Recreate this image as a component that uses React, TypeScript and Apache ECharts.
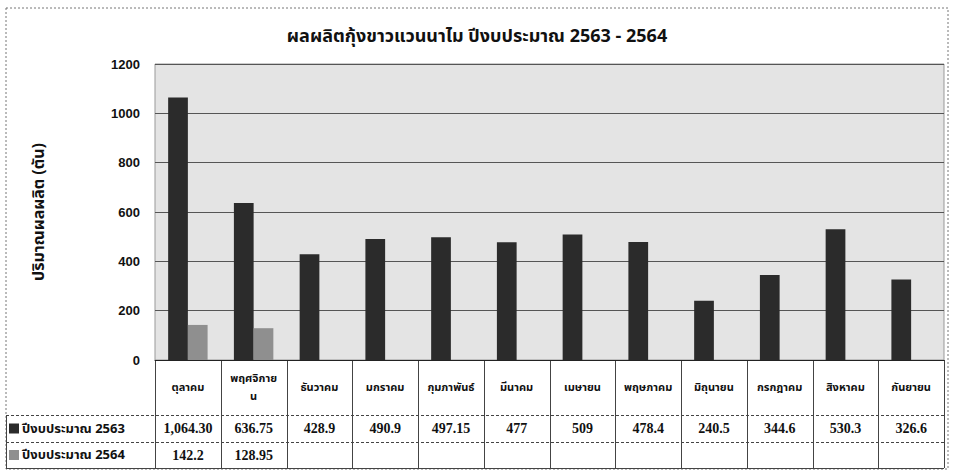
import React, { useEffect, useRef } from "react";
import * as echarts from "echarts";

const categories = ["ตุลาคม", "พฤศจิกายน", "ธันวาคม", "มกราคม", "กุมภาพันธ์", "มีนาคม", "เมษายน", "พฤษภาคม", "มิถุนายน", "กรกฎาคม", "สิงหาคม", "กันยายน"];
const categoryTickLabels = ["ตุลาคม", "พฤศจิกาย\nน", "ธันวาคม", "มกราคม", "กุมภาพันธ์", "มีนาคม", "เมษายน", "พฤษภาคม", "มิถุนายน", "กรกฎาคม", "สิงหาคม", "กันยายน"];
const seriesNames = ["ปีงบประมาณ 2563", "ปีงบประมาณ 2564"];
const values2563 = [1064.3, 636.75, 428.9, 490.9, 497.15, 477, 509, 478.4, 240.5, 344.6, 530.3, 326.6];
const values2564: (number | null)[] = [142.2, 128.95, null, null, null, null, null, null, null, null, null, null];
const tableLabels2563 = ["1,064.30", "636.75", "428.9", "490.9", "497.15", "477", "509", "478.4", "240.5", "344.6", "530.3", "326.6"];
const tableLabels2564 = ["142.2", "128.95", "", "", "", "", "", "", "", "", "", ""];
const yTicks = [0, 200, 400, 600, 800, 1000, 1200];

const TITLE = "ผลผลิตกุ้งขาวแวนนาไม ปีงบประมาณ 2563 - 2564";
const Y_NAME = "ปริมาณผลผลิต (ตัน)";

const W = 954, H = 472;
const GL = 155, GR = 944, GT = 64, GB = 360;
const ROW1 = 415, ROW2 = 442, ROW3 = 468, LEG_L = 6;
const COLORS = ["#2b2b2b", "#8f8f8f"];
const THAI = "Tahoma, 'Noto Sans Thai', 'Noto Sans', 'Liberation Serif', serif";
const SERIF = "'Liberation Serif', 'Times New Roman', serif";

export default function App() {
  const ref = useRef<HTMLDivElement>(null);
  useEffect(() => {
    document.body.style.margin = "0";
    const chart = echarts.init(ref.current!, null, { renderer: "svg" });
    const cw = (GR - GL) / categories.length;
    const lineStyle = { stroke: "#444", lineWidth: 1 };
    const graphics: any[] = [];
    graphics.push({ type: "rect", shape: { x: 6, y: 8, width: 942, height: 461 }, style: { fill: "none", stroke: "#777", lineWidth: 1, lineDash: [2, 2] }, silent: true });
    for (let i = 0; i <= categories.length; i++) {
      const x = Math.round(GL + i * cw) + 0.5;
      graphics.push({ type: "line", shape: { x1: x, y1: GB, x2: x, y2: ROW3 }, style: lineStyle, silent: true });
    }
    graphics.push({ type: "line", shape: { x1: LEG_L + 0.5, y1: ROW1, x2: LEG_L + 0.5, y2: ROW3 }, style: lineStyle, silent: true });
    [ROW1, ROW2, ROW3].forEach((y) => {
      graphics.push({ type: "line", shape: { x1: LEG_L, y1: y + 0.5, x2: GR, y2: y + 0.5 }, style: { stroke: "#444", lineWidth: 1, lineDash: y === ROW3 ? null : [3, 2] }, silent: true });
    });
    seriesNames.forEach((n, i) => {
      const top = i === 0 ? ROW1 : ROW2;
      const mid = (top + (i === 0 ? ROW2 : ROW3)) / 2;
      graphics.push({ type: "rect", shape: { x: 9, y: mid - 5, width: 10, height: 10 }, style: { fill: COLORS[i] }, silent: true });
      graphics.push({ type: "text", x: 22, y: mid, style: { text: n, fill: "#111", font: `bold 13px ${THAI}`, verticalAlign: "middle" }, silent: true });
    });

    chart.setOption({
      animation: false,
      backgroundColor: "#fff",
      title: { text: TITLE, left: "center", top: 22, textStyle: { fontFamily: THAI, fontWeight: "bold", fontSize: 18, color: "#111" } },
      grid: { left: GL, right: W - GR, top: GT, bottom: H - GB, show: true, backgroundColor: "#e4e4e4", borderColor: "#999", borderWidth: 1 },
      xAxis: [
        {
          type: "category", data: categories, position: "bottom",
          axisLine: { show: true, lineStyle: { color: "#222" } }, axisTick: { show: false },
          axisLabel: { interval: 0, margin: 27, verticalAlign: "middle", lineHeight: 18, formatter: (_v: string, i: number) => categoryTickLabels[i], fontFamily: THAI, fontWeight: "bold", fontSize: 11, color: "#111" },
        },
        {
          type: "category", data: categories, position: "bottom", offset: ROW1 - GB,
          axisLine: { show: false }, axisTick: { show: false },
          axisLabel: { interval: 0, margin: (ROW2 - ROW1) / 2, verticalAlign: "middle", formatter: (_v: string, i: number) => tableLabels2563[i], fontFamily: SERIF, fontWeight: "bold", fontSize: 14, color: "#111" },
        },
        {
          type: "category", data: categories, position: "bottom", offset: ROW2 - GB,
          axisLine: { show: false }, axisTick: { show: false },
          axisLabel: { interval: 0, margin: (ROW3 - ROW2) / 2, verticalAlign: "middle", formatter: (_v: string, i: number) => tableLabels2564[i], fontFamily: SERIF, fontWeight: "bold", fontSize: 14, color: "#111" },
        },
      ],
      yAxis: {
        type: "value", min: yTicks[0], max: yTicks[yTicks.length - 1], interval: 200,
        name: Y_NAME, nameLocation: "middle", nameGap: 108, nameRotate: 90,
        nameTextStyle: { fontFamily: THAI, fontWeight: "bold", fontSize: 16, color: "#111" },
        axisLine: { show: false }, axisTick: { show: false },
        axisLabel: { margin: 15, formatter: (v: number) => String(v), fontFamily: "'Liberation Sans', Arial, sans-serif", fontWeight: "bold", fontSize: 13, color: "#111" },
        splitLine: { show: true, lineStyle: { color: "#555", width: 1 } },
      },
      series: [
        { name: seriesNames[0], type: "bar", xAxisIndex: 0, data: values2563, barWidth: "30%", barGap: "0%", itemStyle: { color: COLORS[0] } },
        { name: seriesNames[1], type: "bar", xAxisIndex: 0, data: values2564, barWidth: "30%", barGap: "0%", itemStyle: { color: COLORS[1] } },
      ],
      graphic: graphics,
    });
    return () => chart.dispose();
  }, []);
  return <div ref={ref} style={{ width: W, height: H }} />;
}
